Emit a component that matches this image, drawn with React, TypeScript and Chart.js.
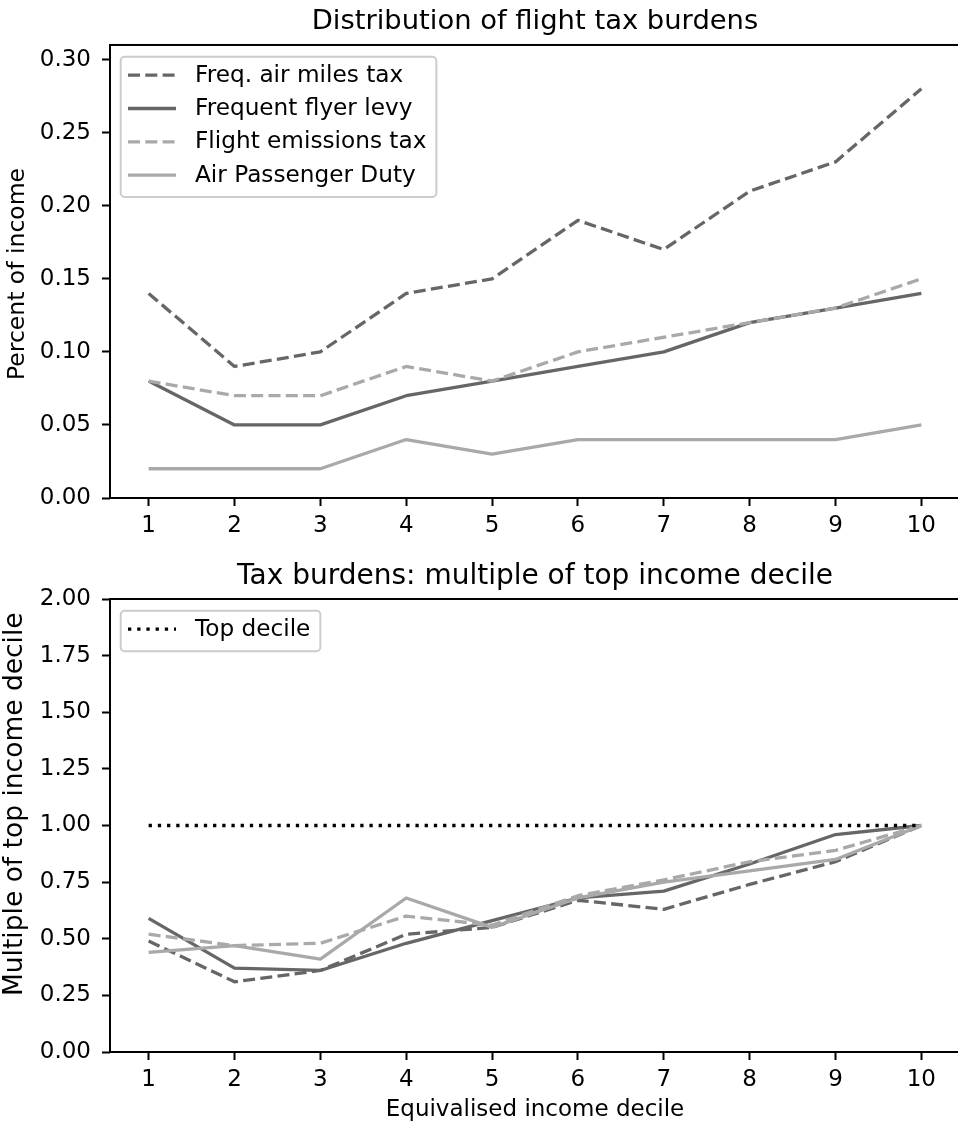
import React, { useEffect, useRef } from "react";
import { Chart, registerables } from "chart.js";

Chart.register(...registerables);

const FONT = "'DejaVu Sans', 'Liberation Sans', sans-serif";

// Income deciles on the x axis
const deciles = [1, 2, 3, 4, 5, 6, 7, 8, 9, 10];

// Tax burden as percent of income, per decile
const airMilesShare = [0.14, 0.09, 0.1, 0.14, 0.15, 0.19, 0.17, 0.21, 0.23, 0.28];
const flyerLevyShare = [0.08, 0.05, 0.05, 0.07, 0.08, 0.09, 0.1, 0.12, 0.13, 0.14];
const emissionsShare = [0.08, 0.07, 0.07, 0.09, 0.08, 0.1, 0.11, 0.12, 0.13, 0.15];
const passengerDutyShare = [0.02, 0.02, 0.02, 0.04, 0.03, 0.04, 0.04, 0.04, 0.04, 0.05];

// Tax burden as a multiple of the top decile's burden
const airMilesMultiple = [0.49, 0.31, 0.36, 0.52, 0.55, 0.67, 0.63, 0.74, 0.84, 1.0];
const flyerLevyMultiple = [0.59, 0.37, 0.36, 0.48, 0.58, 0.68, 0.71, 0.83, 0.96, 1.0];
const emissionsMultiple = [0.52, 0.47, 0.48, 0.6, 0.56, 0.69, 0.76, 0.84, 0.89, 1.0];
const passengerDutyMultiple = [0.44, 0.47, 0.41, 0.68, 0.55, 0.68, 0.75, 0.8, 0.85, 1.0];
const topDecileReference = [1, 1, 1, 1, 1, 1, 1, 1, 1, 1];

// Axis tick values
const shareTicks = [0, 0.05, 0.1, 0.15, 0.2, 0.25, 0.3];
const multipleTicks = [0, 0.25, 0.5, 0.75, 1.0, 1.25, 1.5, 1.75, 2.0];

const seriesLabels = {
  airMiles: "Freq. air miles tax",
  flyerLevy: "Frequent flyer levy",
  emissions: "Flight emissions tax",
  passengerDuty: "Air Passenger Duty",
  topDecile: "Top decile",
};

const DARK = "#666666";
const LIGHT = "#a9a9a9";
const DASHED = [12, 5.3];
const DOTTED = [3.3, 5.9];
const TICK_SIZE = 23;

function lineDataset(label: string, values: number[], color: string, dash: number[], order: number) {
  return {
    label,
    data: deciles.map((d, i) => ({ x: d, y: values[i] })),
    borderColor: color,
    backgroundColor: color,
    borderWidth: 3.3,
    borderDash: dash,
    borderCapStyle: "butt" as const,
    borderJoinStyle: "round" as const,
    pointRadius: 0,
    pointHoverRadius: 0,
    tension: 0,
    fill: false,
    order,
  };
}

// Black box around the plotting area
const framePlugin = {
  id: "frame",
  afterDatasetsDraw(chart: any) {
    const { ctx, chartArea: a } = chart;
    ctx.save();
    ctx.strokeStyle = "#000";
    ctx.lineWidth = 2;
    ctx.strokeRect(a.left, a.top, a.right - a.left, a.bottom - a.top);
    ctx.restore();
  },
};

// Center the chart title over the plotting area rather than the whole canvas
const centerTitlePlugin = {
  id: "centerTitle",
  afterLayout(chart: any) {
    const t = chart.titleBlock;
    if (t) {
      t.left = chart.chartArea.left;
      t.right = chart.chartArea.right;
    }
  },
};

// Rotated y-axis caption
const sideLabelPlugin = {
  id: "sideLabel",
  afterDraw(chart: any, _args: any, opts: any) {
    if (!opts || !opts.text) return;
    const { ctx, chartArea: a } = chart;
    ctx.save();
    ctx.font = `${opts.size}px ${FONT}`;
    ctx.fillStyle = "#000";
    ctx.textAlign = "center";
    ctx.textBaseline = "middle";
    ctx.translate(opts.x, (a.top + a.bottom) / 2 + (opts.shift || 0));
    ctx.rotate(-Math.PI / 2);
    ctx.fillText(opts.text, 0, 0);
    ctx.restore();
  },
};

// Legend drawn inside the upper-left corner of the plotting area
const insetLegendPlugin = {
  id: "insetLegend",
  afterDraw(chart: any, _args: any, opts: any) {
    if (!opts || !opts.labels) return;
    const { ctx, chartArea: a } = chart;
    const items = chart.data.datasets.filter((d: any) => opts.labels.includes(d.label));
    const size = opts.size || 23.2;
    ctx.save();
    ctx.font = `${size}px ${FONT}`;
    const textW = Math.max(...items.map((d: any) => ctx.measureText(d.label).width));
    const left = a.left + 10.7;
    const top = a.top + 11.7;
    const rowH = 33.3;
    const w = 7.3 + 48 + 19 + textW + 10;
    const h = 18.5 + rowH * (items.length - 1) + 22;
    ctx.beginPath();
    if ((ctx as any).roundRect) (ctx as any).roundRect(left, top, w, h, 4);
    else ctx.rect(left, top, w, h);
    ctx.fillStyle = "rgba(255,255,255,0.8)";
    ctx.fill();
    ctx.strokeStyle = "#cccccc";
    ctx.lineWidth = 2;
    ctx.stroke();
    items.forEach((d: any, i: number) => {
      const y = top + 18.5 + i * rowH;
      ctx.beginPath();
      ctx.setLineDash(d.borderDash || []);
      ctx.strokeStyle = d.borderColor;
      ctx.lineWidth = d.borderWidth;
      ctx.lineCap = "butt";
      ctx.moveTo(left + 7.3, y);
      ctx.lineTo(left + 55.3, y);
      ctx.stroke();
      ctx.setLineDash([]);
      ctx.fillStyle = "#000";
      ctx.textAlign = "left";
      ctx.textBaseline = "middle";
      ctx.fillText(d.label, left + 74.3, y + 0.6);
    });
    ctx.restore();
  },
};

function buildScales(yTicks: number[], yMax: number, xAxisHeight: number, xTitle?: string) {
  return {
    x: {
      type: "linear" as const,
      min: 0.55,
      max: 10.45,
      afterBuildTicks: (s: any) => {
        s.ticks = deciles.map((v) => ({ value: v }));
      },
      afterFit: (s: any) => {
        s.height = xAxisHeight;
      },
      grid: {
        display: true,
        drawOnChartArea: false,
        drawTicks: true,
        tickLength: 8,
        tickWidth: 2,
        tickColor: "#000",
      },
      border: { display: false },
      ticks: {
        color: "#000",
        font: { family: FONT, size: TICK_SIZE },
        padding: 6,
        maxRotation: 0,
        autoSkip: false,
        callback: (v: any) => String(v),
      },
      title: xTitle
        ? {
            display: true,
            text: xTitle,
            color: "#000",
            font: { family: FONT, size: 23 },
            padding: { top: 0, bottom: 0 },
          }
        : { display: false },
    },
    y: {
      type: "linear" as const,
      min: 0,
      max: yMax,
      afterBuildTicks: (s: any) => {
        s.ticks = yTicks.map((v) => ({ value: v }));
      },
      afterFit: (s: any) => {
        s.width = 110;
      },
      grid: {
        display: true,
        drawOnChartArea: false,
        drawTicks: true,
        tickLength: 8,
        tickWidth: 2,
        tickColor: "#000",
      },
      border: { display: false },
      ticks: {
        color: "#000",
        font: { family: FONT, size: TICK_SIZE },
        padding: 11,
        autoSkip: false,
        callback: (v: any) => Number(v).toFixed(2),
      },
    },
  };
}

function titleOptions(text: string, size: number, padTop: number, padBottom: number) {
  return {
    display: true,
    text,
    color: "#000",
    font: { family: FONT, size, weight: "normal" as const },
    padding: { top: padTop, bottom: padBottom },
  };
}

function shareConfig(): any {
  return {
    type: "line",
    data: {
      datasets: [
        lineDataset(seriesLabels.airMiles, airMilesShare, DARK, DASHED, 4),
        lineDataset(seriesLabels.flyerLevy, flyerLevyShare, DARK, [], 3),
        lineDataset(seriesLabels.emissions, emissionsShare, LIGHT, DASHED, 2),
        lineDataset(seriesLabels.passengerDuty, passengerDutyShare, LIGHT, [], 1),
      ],
    },
    options: {
      responsive: false,
      animation: false,
      devicePixelRatio: 1,
      layout: { padding: 0 },
      scales: buildScales(shareTicks, 0.31, 56),
      plugins: {
        legend: { display: false },
        tooltip: { enabled: false },
        title: titleOptions("Distribution of flight tax burdens", 27.4, 5.2, 6.9),
        sideLabel: { text: "Percent of income", size: 23.5, x: 18, shift: 2.5 },
        insetLegend: {
          labels: [
            seriesLabels.airMiles,
            seriesLabels.flyerLevy,
            seriesLabels.emissions,
            seriesLabels.passengerDuty,
          ],
        },
      },
    },
    plugins: [framePlugin, centerTitlePlugin, sideLabelPlugin, insetLegendPlugin],
  };
}

function multipleConfig(): any {
  return {
    type: "line",
    data: {
      datasets: [
        lineDataset(seriesLabels.airMiles, airMilesMultiple, DARK, DASHED, 5),
        lineDataset(seriesLabels.flyerLevy, flyerLevyMultiple, DARK, [], 4),
        lineDataset(seriesLabels.emissions, emissionsMultiple, LIGHT, DASHED, 3),
        lineDataset(seriesLabels.passengerDuty, passengerDutyMultiple, LIGHT, [], 2),
        lineDataset(seriesLabels.topDecile, topDecileReference, "#000000", DOTTED, 1),
      ],
    },
    options: {
      responsive: false,
      animation: false,
      devicePixelRatio: 1,
      layout: { padding: 0 },
      scales: buildScales(multipleTicks, 2, 72, "Equivalised income decile"),
      plugins: {
        legend: { display: false },
        tooltip: { enabled: false },
        title: titleOptions("Tax burdens: multiple of top income decile", 28, 5.8, 5.6),
        sideLabel: { text: "Multiple of top income decile", size: 26.5, x: 15.4, shift: -21.3 },
        insetLegend: { labels: [seriesLabels.topDecile] },
      },
    },
    plugins: [framePlugin, centerTitlePlugin, sideLabelPlugin, insetLegendPlugin],
  };
}

function ChartCanvas({ makeConfig, top, width, height }: { makeConfig: () => any; top: number; width: number; height: number }) {
  const ref = useRef<HTMLCanvasElement>(null);
  useEffect(() => {
    if (!ref.current) return;
    const chart = new Chart(ref.current, makeConfig());
    return () => chart.destroy();
  }, [makeConfig]);
  return (
    <canvas
      ref={ref}
      width={width}
      height={height}
      style={{ position: "absolute", left: 0, top, width, height, display: "block" }}
    />
  );
}

export default function App() {
  return (
    <div
      style={{
        position: "absolute",
        left: 0,
        top: 0,
        width: 958,
        height: 1124,
        overflow: "hidden",
        background: "#ffffff",
      }}
    >
      <ChartCanvas makeConfig={shareConfig} top={0} width={960} height={554} />
      <ChartCanvas makeConfig={multipleConfig} top={554} width={960} height={570} />
    </div>
  );
}
